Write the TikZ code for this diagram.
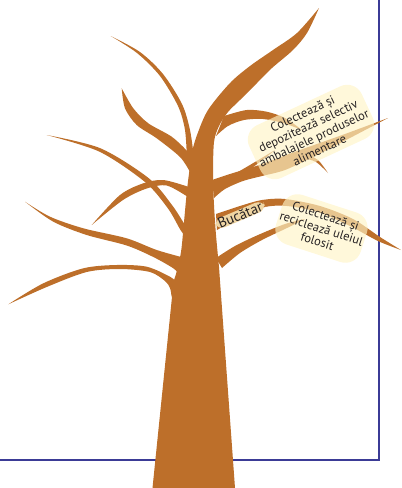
\documentclass[tikz,border=0pt]{standalone}
\usepackage{fontspec}
\setmainfont{PT Sans}
\usepackage{xcolor}
\usepackage{tikz}

\definecolor{bark}{HTML}{BD6F2A}
\definecolor{frameblue}{HTML}{3B3B96}
\definecolor{notefill}{HTML}{FFF4C6}
\definecolor{tagfill}{HTML}{EFD5A3}
\definecolor{ink}{HTML}{262223}

\begin{document}
\begin{tikzpicture}[x=1pt,y=-1pt]
    \tikzstyle{branch} = [fill=bark]
    \tikzstyle{note} = [rectangle, fill=notefill, fill opacity=0.65, text opacity=1, text=ink, rounded corners=16pt, align=center, inner xsep=1pt, inner ysep=2pt, font=\fontsize{12.5}{13.4}\selectfont]
    \tikzstyle{tag} = [rectangle, fill=tagfill, text=ink, rounded corners=8pt, inner xsep=3pt, inner ysep=0pt, font=\fontsize{14.5}{15}\selectfont]
    \useasboundingbox (0,0) rectangle (402,488);

    \draw[frameblue, line width=1.8pt] (0,460) -| (379,0);

    % trunk and the big limb
    \fill[branch] (152.5,488)
        -- plot[smooth] coordinates {(172,297) (171,289) (176,274) (181,252) (184,222) (187,190) (190,166) (192,152) (197,135) (208,110) (230,83) (250,66) (273,50) (297,33) (319,8)}
        -- plot[smooth] coordinates {(319,8) (307,33) (293,50) (272,68) (257,83) (240,100) (228,112) (219,126) (214,142) (213,175) (214,205) (216,235) (219,267)}
        -- (235,488) -- cycle;

    % left side
    \fill[branch] plot[smooth] coordinates {(187,160) (185,130) (178,106) (160,76) (137,53) (110.7,36)}
        -- plot[smooth] coordinates {(110.7,36) (140,52) (163,74) (182,104) (190,130) (194,158)} -- cycle;
    \fill[branch] plot[smooth] coordinates {(121.7,88.3) (133.3,108.3) (148.3,123.3) (171.7,136.7) (188,152) (192,160)}
        -- plot[smooth] coordinates {(190,172) (180,157) (156.7,138.3) (136.7,125) (125,108.3) (121.7,88.3)} -- cycle;
    \fill[branch] plot[smooth] coordinates {(46.7,135) (100.5,148.3) (148.5,178) (172,205) (185.5,226)}
        -- plot[smooth] coordinates {(187,238) (180.5,230) (168,208.5) (145,182) (99.5,151.7) (46.7,135)} -- cycle;
    \fill[branch] plot[smooth] coordinates {(91.7,225) (120,195) (143.3,183.3) (163.3,180) (188,186.7)}
        -- plot[smooth] coordinates {(188,197) (166.7,185.5) (146.7,188.5) (123,200) (91.7,225)} -- cycle;
    \fill[branch] plot[smooth] coordinates {(25,201.7) (50,216.7) (83.3,228.3) (126.7,238.3) (156.7,250) (185,258)}
        -- plot[smooth] coordinates {(180,275) (173.3,268.3) (153.3,257) (126.7,245.5) (86.7,235) (53.3,221.7) (25,201.7)} -- cycle;
    \fill[branch] plot[smooth] coordinates {(8.3,304.3) (43.3,283.3) (83.3,268.3) (116.7,265) (146.7,266.7) (170,276.7) (176,282)}
        -- plot[smooth] coordinates {(172,297) (170,288) (165,281) (150,272) (120,269) (86.7,272) (46.7,287) (8.3,304.3)} -- cycle;

    % right side
    \fill[branch] plot[smooth] coordinates {(224,116) (246.7,110) (266.7,111.7) (285,118) (302,130)}
        -- plot[smooth] coordinates {(302,130) (283,123) (263,119) (244,120) (228,126) (216,136)} -- cycle;
    \fill[branch] plot[smooth] coordinates {(212,180) (230,174) (243,170) (262,164) (300,150) (345,134) (388,118)}
        -- plot[smooth] coordinates {(388,118) (348,139) (315,156) (285,170) (262,176) (243,181) (225,189) (214,198)} -- cycle;
    \fill[branch] plot[smooth] coordinates {(238,172) (255,162) (275,150)}
        -- plot[smooth] coordinates {(275,150) (256,165) (240,176)} -- cycle;
    \fill[branch] plot[smooth] coordinates {(306,154) (318,160) (328,173)}
        -- plot[smooth] coordinates {(328,173) (316,162) (303,158)} -- cycle;
    \fill[branch] plot[smooth] coordinates {(216,214) (240,206) (262,200) (285,199) (320,206) (353,219) (380,237) (401,250)}
        -- plot[smooth] coordinates {(401,250) (378,241) (350,226) (318,212) (287,206) (265,207) (240,217) (217,230)} -- cycle;
    \fill[branch] plot[smooth] coordinates {(216,258) (235,246) (258,235) (285,224) (305,219)}
        -- plot[smooth] coordinates {(305,219) (287,228) (262,240) (240,253) (222,268)} -- cycle;

    \node[note, rotate=25, minimum width=124pt, minimum height=58pt] (sortare) at (311,132) {Colectează și\\depozitează selectiv\\ambalajele produselor\\alimentare};
    \node[note, rotate=-18, minimum width=80pt, minimum height=52pt] (ulei) at (321.5,228.5) {Colectează și\\reciclează uleiul\\folosit};
    \node[tag, rotate=23] (bucatar) at (240,215) {Bucătar};
\end{tikzpicture}
\end{document}
